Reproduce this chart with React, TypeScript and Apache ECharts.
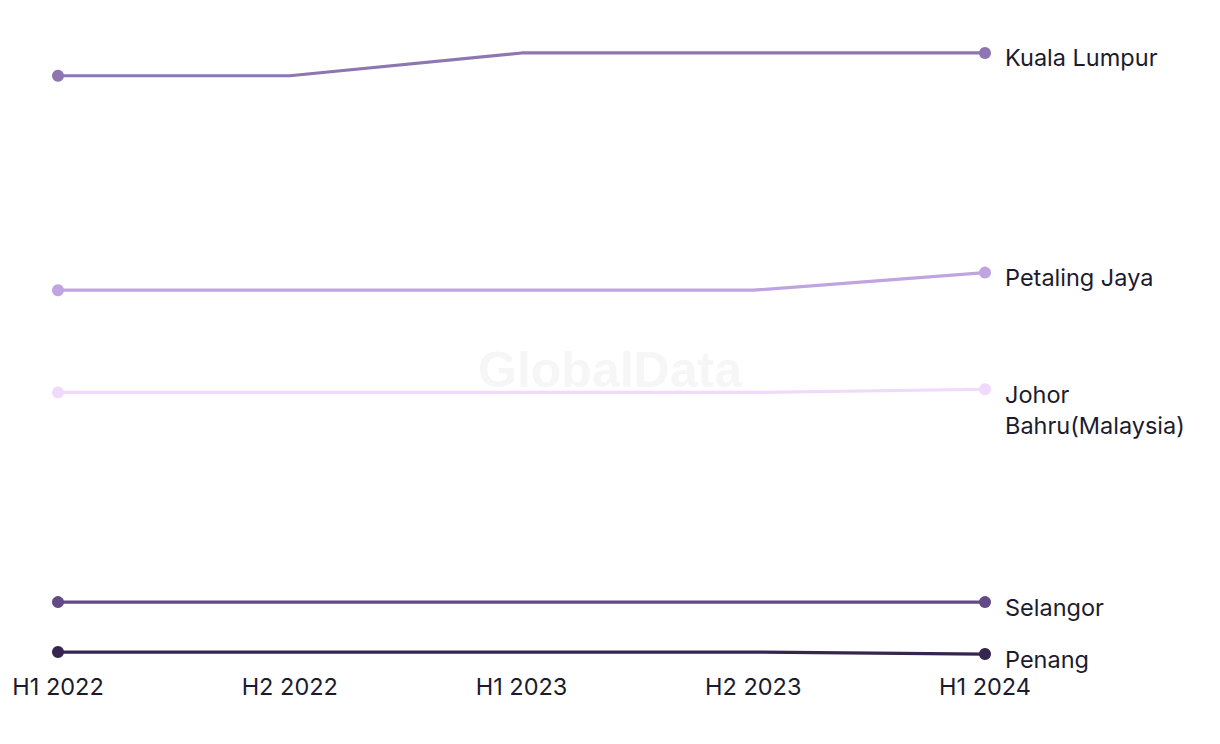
import React, { useEffect, useRef } from "react";
import * as echarts from "echarts";

const categories = ["H1 2022", "H2 2022", "H1 2023", "H2 2023", "H1 2024"];
const seriesNames = ["Kuala Lumpur", "Petaling Jaya", "Johor Bahru(Malaysia)", "Selangor", "Penang"];
const kualaLumpur = [149.3, 149.3, 155, 155, 155];
const petalingJaya = [95.6, 95.6, 95.6, 95.6, 100];
const johorBahru = [70, 70, 70, 70, 70.8];
const selangor = [17.5, 17.5, 17.5, 17.5, 17.5];
const penang = [5, 5, 5, 5, 4.5];
const colors = ["#8e76b1", "#c0a4e0", "#f0dafb", "#624a86", "#36254f"];
const endLabelTexts = ["Kuala Lumpur", "Petaling Jaya", "Johor\nBahru(Malaysia)", "Selangor", "Penang"];

const FONT = "Inter, 'Noto Sans', sans-serif";

export default function App() {
  const ref = useRef<HTMLDivElement>(null);
  useEffect(() => {
    document.body.style.margin = "0";
    if (!ref.current) return;
    const chart = echarts.init(ref.current, null, { renderer: "svg" });
    const all = [kualaLumpur, petalingJaya, johorBahru, selangor, penang];
    const series = all.map((vals, si) => ({
      name: seriesNames[si],
      type: "line",
      data: vals.map((v, i) =>
        i === 0 || i === vals.length - 1 ? { value: v } : { value: v, symbol: "none" }
      ),
      symbol: "circle",
      symbolSize: 12,
      showAllSymbol: true,
      lineStyle: { width: 3.2, color: colors[si] },
      itemStyle: { color: colors[si] },
      endLabel: {
        show: true,
        formatter: () => endLabelTexts[si],
        color: "#1c1b2e",
        fontFamily: FONT,
        fontSize: 23.5,
        lineHeight: 31,
        distance: 20,
        offset: [0, si === 2 ? 21 : 5],
      },
      emphasis: { disabled: true },
    }));
    chart.setOption({
      animation: false,
      grid: { left: 58, right: 235, top: 33, bottom: 72 },
      graphic: [
        {
          type: "text",
          left: "center",
          top: 345,
          style: {
            text: "GlobalData",
            fontSize: 50,
            fontWeight: "bold",
            fontFamily: "'Liberation Sans', Arial, sans-serif",
            fill: "#f6f6f6",
          },
          z: -1,
        },
      ],
      xAxis: {
        type: "category",
        data: categories,
        boundaryGap: false,
        axisLine: { show: false },
        axisTick: { show: false },
        axisLabel: { color: "#1c1b2e", fontSize: 23.5, fontFamily: FONT, margin: 2 },
        splitLine: { show: false },
      },
      yAxis: {
        type: "value",
        min: 0,
        max: 160,
        show: false,
        splitLine: { show: false },
      },
      series,
    });
    return () => chart.dispose();
  }, []);
  return <div ref={ref} style={{ width: 1220, height: 744 }} />;
}
